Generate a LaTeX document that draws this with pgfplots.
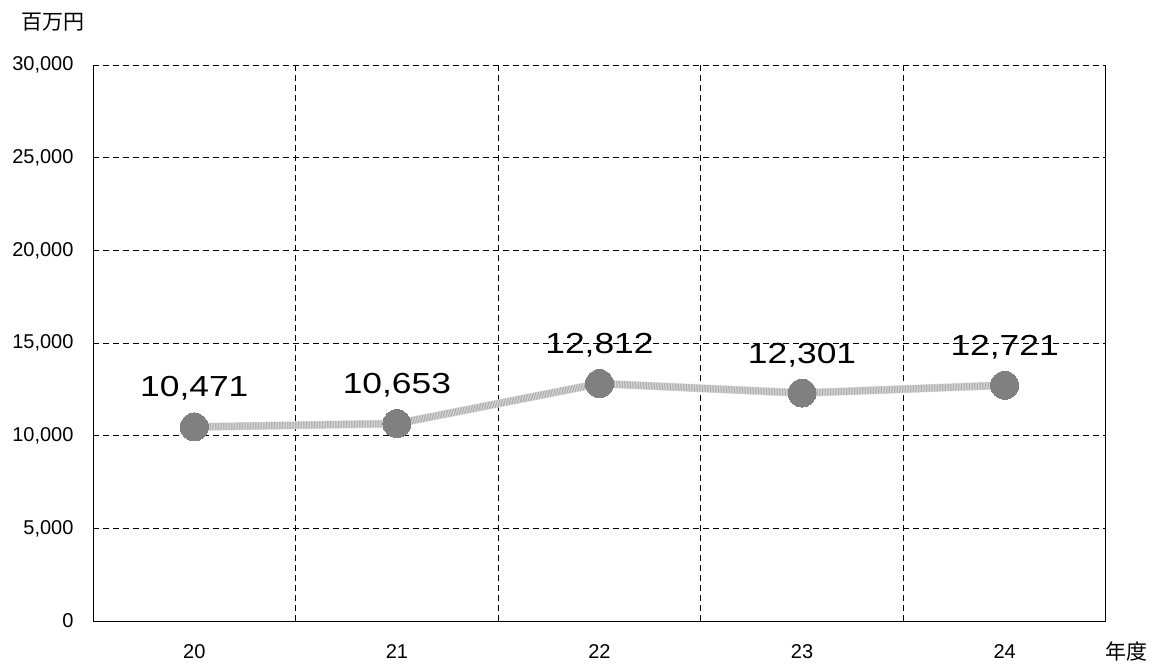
\documentclass[border=0pt]{standalone}
\usepackage{pgfplots}
\pgfplotsset{compat=1.18}
\usepackage{fontspec}
\setmainfont{Liberation Sans}
\newfontfamily\jpfont{Noto Sans CJK JP}
\newfontfamily\lblfont[FakeStretch=1.22]{Liberation Sans}
\definecolor{markgray}{HTML}{808080}
\definecolor{linebase}{HTML}{DCDCDC}
\definecolor{linedot}{HTML}{A0A0A0}
\begin{document}
\begin{tikzpicture}[x=1pt,y=1pt]
\path[use as bounding box] (0,0) rectangle (1158,664);
\begin{axis}[
  at={(93pt,43pt)}, anchor=south west,
  scale only axis, width=1013pt, height=556pt,
  xmin=-0.5, xmax=4.5, ymin=0, ymax=30000,
  xtick={0,1,2,3,4}, xticklabels={20,21,22,23,24},
  minor xtick={0.5,1.5,2.5,3.5},
  ytick={0,5000,10000,15000,20000,25000,30000},
  scaled y ticks=false,
  yticklabel={\pgfmathprintnumber[1000 sep={,},fixed,precision=0]{\tick}},
  /pgf/number format/assume math mode=true,
  major tick length=0pt, minor tick length=0pt,
  axis x line*=bottom, axis y line*=left,
  axis line style={black, line width=1pt, -},
  ymajorgrids, xminorgrids,
  minor x grid style={black, line width=0.8pt, dash pattern=on 6pt off 4pt},
  major grid style={black, line width=0.8pt, dash pattern=on 6pt off 4pt},
  tick label style={font=\fontsize{20}{22}\selectfont},
  yticklabel style={xshift=-16pt},
  xticklabel style={yshift=-20pt},
  clip=false,
]
\addplot[linebase, line width=8pt, no marks]
coordinates {(0,10471) (1,10653) (2,12812) (3,12301) (4,12721)};
\addplot[linedot, line width=7pt, no marks, dash pattern=on 0.6pt off 1pt]
coordinates {(0,10471) (1,10653) (2,12812) (3,12301) (4,12721)};
\addplot[only marks, mark=*, mark size=14pt,
  mark options={fill=markgray, draw=markgray, line width=0pt},
  nodes near coords={\pgfmathprintnumber[1000 sep={,},fixed,precision=0]{\pgfplotspointmeta}},
  point meta=y,
  every node near coord/.append style={anchor=base, yshift=30pt, font=\lblfont\fontsize{29}{32}\selectfont, text=black}]
coordinates {(0,10471) (1,10653) (2,12812) (3,12301) (4,12721)};
\draw[black, line width=1pt] (rel axis cs:1,0) -- (rel axis cs:1,1);
\end{axis}
\node[anchor=center, font=\jpfont\fontsize{21}{24}\selectfont] at (53,642) {百万円};
\node[anchor=center, font=\jpfont\fontsize{21}{24}\selectfont] at (1126,13) {年度};
\end{tikzpicture}
\end{document}
